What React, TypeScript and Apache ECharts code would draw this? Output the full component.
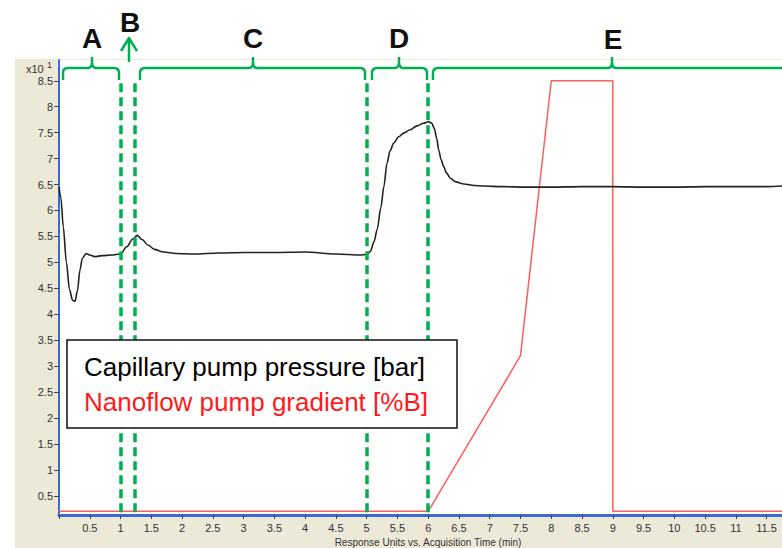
import React, { useEffect, useRef } from 'react';
import * as echarts from 'echarts';

// Capillary pump pressure (x10 bar) vs acquisition time (min)
const timeMin = [
  0.0, 0.03, 0.07, 0.12, 0.17, 0.22, 0.26, 0.3, 0.34, 0.38, 0.44, 0.5, 0.58, 0.7, 0.85, 1.0,
  1.1, 1.2, 1.27, 1.35, 1.45, 1.55, 1.7, 1.9, 2.2, 2.6, 3.0, 3.5, 4.0, 4.5, 4.9, 5.0,
  5.06, 5.12, 5.17, 5.23, 5.28, 5.33, 5.38, 5.44, 5.52, 5.6, 5.7, 5.82, 5.92, 6.01, 6.06,
  6.1, 6.14, 6.17, 6.21, 6.25, 6.3, 6.36, 6.45, 6.58, 6.75, 6.9, 7.2, 7.6, 8.0, 8.5, 9.0,
  9.5, 10.0, 10.5, 11.0, 11.5, 11.75,
];
const pressure = [
  6.45, 6.25, 5.68, 5.0, 4.48, 4.27, 4.25, 4.45, 4.85, 5.08, 5.17, 5.14, 5.11, 5.13, 5.14, 5.16,
  5.3, 5.45, 5.52, 5.44, 5.33, 5.25, 5.2, 5.17, 5.16, 5.18, 5.19, 5.19, 5.2, 5.16, 5.14, 5.15,
  5.21, 5.4, 5.63, 6.05, 6.46, 6.91, 7.15, 7.3, 7.42, 7.49, 7.55, 7.63, 7.68, 7.71, 7.68,
  7.58, 7.38, 7.17, 6.98, 6.85, 6.72, 6.62, 6.55, 6.51, 6.48, 6.47, 6.46, 6.45, 6.45, 6.46, 6.46,
  6.45, 6.45, 6.46, 6.46, 6.46, 6.47,
];

// Nanoflow pump gradient (%B, x10)
const gradientTime = [0, 6, 7.5, 8, 9, 9, 11.75];
const gradientB = [0.2, 0.2, 3.2, 8.5, 8.5, 0.2, 0.2];

// Section boundaries (min)
const sectionBounds = [1, 1.23, 5, 6];
const sectionLabels = ['A', 'B', 'C', 'D', 'E'];

const yTicks = [0.5, 1, 1.5, 2, 2.5, 3, 3.5, 4, 4.5, 5, 5.5, 6, 6.5, 7, 7.5, 8, 8.5];
const xTicks = [0, 0.5, 1, 1.5, 2, 2.5, 3, 3.5, 4, 4.5, 5, 5.5, 6, 6.5, 7, 7.5, 8, 8.5, 9, 9.5, 10, 10.5, 11, 11.5];

const seriesNames = ['Capillary pump pressure [bar]', 'Nanoflow pump gradient [%B]'];
const xAxisTitle = 'Response Units vs. Acquisition Time (min)';

const GREEN = '#00b050';

const bracePath = (x1: number, x2: number, cx: number) =>
  `M${x1} 80 L${x1} 73 Q${x1} 68 ${x1 + 5} 68 L${cx - 4} 68 Q${cx} 68 ${cx} 62 L${cx} 57 ` +
  `M${cx} 62 Q${cx} 68 ${cx + 4} 68 L${x2 - 5} 68 Q${x2} 68 ${x2} 73 L${x2} 80 `;

const annotationD =
  bracePath(63, 119, 92) +
  bracePath(140, 365, 253) +
  bracePath(372, 427, 399) +
  bracePath(433, 800, 612) +
  'M129 62 L129 38 M121 51 L129 38 L137 51';

let registered = false;
function ensureShapes() {
  if (registered) return;
  echarts.graphic.registerShape('annot', echarts.graphic.extendPath(annotationD, {}));
  registered = true;
}

export default function App() {
  const ref = useRef<HTMLDivElement>(null);

  useEffect(() => {
    if (!ref.current) return;
    ensureShapes();
    const chart = echarts.init(ref.current, undefined, { renderer: 'svg' });

    const pressureData = timeMin.map((t, i) => [t, pressure[i]]);
    const gradientData = gradientTime.map((t, i) => [t, gradientB[i]]);

    const letterPos = [
      [92, 38],
      [130, 22],
      [253, 38],
      [399, 38],
      [613, 39],
    ];
    const letterFont = "bold 28px 'Liberation Sans Narrow', 'Liberation Sans', Arial, sans-serif";

    const option: any = {
      animation: false,
      backgroundColor: '#ffffff',
      grid: { left: 59, right: 0, top: 60, bottom: 33, containLabel: false },
      xAxis: {
        type: 'value',
        min: 0,
        max: 11.75,
        splitLine: { show: false },
        axisLine: { show: true, onZero: false, lineStyle: { color: '#3a6bd6', width: 3 } },
        axisTick: { show: true, length: 4, customValues: xTicks, lineStyle: { color: '#444', width: 1 } },
        axisLabel: {
          customValues: xTicks,
          margin: 7,
          color: '#333',
          fontSize: 11,
          fontFamily: "'Liberation Sans', Arial, sans-serif",
          formatter: (v: number) => (v === 0 ? '' : String(v)),
        },
      },
      yAxis: {
        type: 'value',
        min: 0.13,
        max: 8.9,
        splitLine: { show: false },
        axisLine: { show: true, onZero: false, lineStyle: { color: '#3a6bd6', width: 2 } },
        axisTick: { show: true, length: 5, customValues: yTicks, lineStyle: { color: '#444', width: 1 } },
        axisLabel: {
          customValues: yTicks,
          margin: 6,
          color: '#333',
          fontSize: 11,
          fontFamily: "'Liberation Sans', Arial, sans-serif",
        },
      },
      series: [
        {
          name: seriesNames[0],
          type: 'line',
          data: pressureData,
          showSymbol: false,
          smooth: 0.3,
          smoothMonotone: 'x',
          lineStyle: { color: '#222', width: 1.6 },
          silent: true,
          z: 3,
          markLine: {
            silent: true,
            symbol: ['none', 'none'],
            label: { show: false },
            lineStyle: { color: GREEN, width: 3.5, type: [9, 5] },
            emphasis: { disabled: true },
            data: sectionBounds.map((b) => [
              { coord: [b, 8.45] },
              { coord: [b, 0.13] },
            ]),
          },
        },
        {
          name: seriesNames[1],
          type: 'line',
          data: gradientData,
          showSymbol: false,
          lineStyle: { color: '#ff5c5c', width: 1.5 },
          silent: true,
          z: 2,
        },
      ],
      graphic: [
        {
          type: 'rect',
          z: -20,
          silent: true,
          shape: { x: 15, y: 59, width: 767, height: 489 },
          style: { fill: '#ece9d8' },
        },
        {
          type: 'rect',
          z: -19,
          silent: true,
          shape: { x: 59, y: 60, width: 723, height: 455 },
          style: { fill: '#ffffff' },
        },
        {
          type: 'text',
          z: 5,
          silent: true,
          style: {
            text: 'x10',
            x: 26,
            y: 69,
            font: "11px 'Liberation Sans', Arial, sans-serif",
            fill: '#333',
            textAlign: 'left',
            align: 'left',
            textVerticalAlign: 'middle',
            verticalAlign: 'middle',
          },
        },
        {
          type: 'text',
          z: 5,
          silent: true,
          style: {
            text: '1',
            x: 47,
            y: 65,
            font: "9px 'Liberation Sans', Arial, sans-serif",
            fill: '#333',
            textAlign: 'left',
            align: 'left',
            textVerticalAlign: 'middle',
            verticalAlign: 'middle',
          },
        },
        {
          type: 'text',
          z: 5,
          silent: true,
          style: {
            text: xAxisTitle,
            x: 428,
            y: 542,
            font: "10px 'Liberation Sans', Arial, sans-serif",
            fill: '#333',
            textAlign: 'center',
            align: 'center',
            textVerticalAlign: 'middle',
            verticalAlign: 'middle',
          },
        },
        {
          type: 'annot',
          z: 10,
          silent: true,
          x: 0,
          y: 0,
          style: { stroke: GREEN, lineWidth: 2.5, fill: null, lineJoin: 'round' },
        },
        ...sectionLabels.map((s, i) => ({
          type: 'text',
          z: 10,
          silent: true,
          style: {
            text: s,
            x: letterPos[i][0],
            y: letterPos[i][1],
            font: letterFont,
            fill: '#111',
            textAlign: 'center',
            align: 'center',
            textVerticalAlign: 'middle',
            verticalAlign: 'middle',
          },
        })),
        {
          type: 'rect',
          z: 20,
          silent: true,
          shape: { x: 67, y: 340, width: 390, height: 88 },
          style: { fill: '#ffffff', stroke: '#111', lineWidth: 1.5 },
        },
        {
          type: 'text',
          z: 21,
          silent: true,
          style: {
            text: seriesNames[0],
            x: 84,
            y: 367,
            font: "26px 'Liberation Sans', Arial, sans-serif",
            fill: '#000',
            textAlign: 'left',
            align: 'left',
            textVerticalAlign: 'middle',
            verticalAlign: 'middle',
          },
        },
        {
          type: 'text',
          z: 21,
          silent: true,
          style: {
            text: seriesNames[1],
            x: 84,
            y: 402,
            font: "26px 'Liberation Sans', Arial, sans-serif",
            fill: '#ff1a1a',
            textAlign: 'left',
            align: 'left',
            textVerticalAlign: 'middle',
            verticalAlign: 'middle',
          },
        },
      ],
    };

    chart.setOption(option);
    return () => chart.dispose();
  }, []);

  return (
    <div
      ref={ref}
      style={{ position: 'fixed', left: 0, top: 0, width: 782, height: 548, background: '#fff' }}
    />
  );
}
